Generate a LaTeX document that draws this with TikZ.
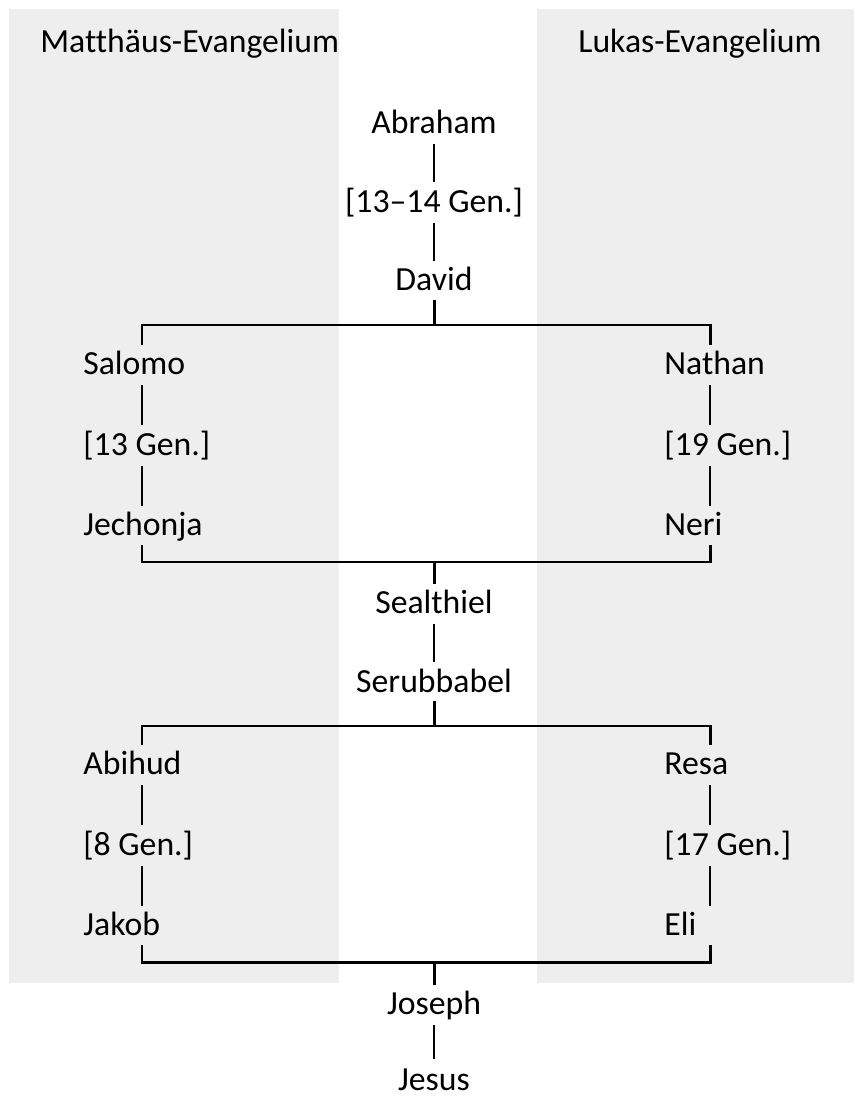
\documentclass[tikz,border=0pt]{standalone}
\usepackage{fontspec}
\setmainfont{Carlito}[Ligatures=NoCommon]
\usetikzlibrary{positioning}
\definecolor{panelgray}{HTML}{EEEEEE}

\begin{document}
\begin{tikzpicture}[
  x=0.02cm, y=-0.02cm,
  person/.style={inner sep=0pt, minimum height=0.76cm, text height=15.5pt, text depth=3.5pt, font=\fontsize{19.2}{23}\selectfont},
  sideperson/.style={person, text width=2.9cm, align=flush left},
  bar/.style={line width=1.1pt, shorten <=0.04cm},
  bracket/.style={line width=1.7pt}
]
\useasboundingbox (0,0) rectangle (854,1097);

%Panels
\fill[panelgray] (9,9) rectangle (339,983);
\fill[panelgray] (537,9) rectangle (854,983);

%Nodes
\node[person, anchor=west] (matthew) at (40,42) {Matthäus-Evangelium};
\node[person, anchor=west] (luke) at (578,42) {Lukas-Evangelium};

\node[person] (abraham) at (434,123) {Abraham};
\node[person, below=0.8cm of abraham] (gena) {[13–14 Gen.]};
\node[person, below=0.8cm of gena] (david) {David};

\node[sideperson, anchor=west] (salomo) at (83,364) {Salomo};
\node[sideperson, below=0.84cm of salomo] (genb) {[13 Gen.]};
\node[sideperson, below=0.84cm of genb] (jechonja) {Jechonja};

\node[sideperson, anchor=west] (nathan) at (664,364) {Nathan};
\node[sideperson, below=0.84cm of nathan] (genc) {[19 Gen.]};
\node[sideperson, below=0.84cm of genc] (neri) {Neri};

\node[person] (sealthiel) at (434,603) {Sealthiel};
\node[person, below=0.8cm of sealthiel] (serubbabel) {Serubbabel};

\node[sideperson, anchor=west] (abihud) at (83,764) {Abihud};
\node[sideperson, below=0.84cm of abihud] (gend) {[8 Gen.]};
\node[sideperson, below=0.84cm of gend] (jakob) {Jakob};

\node[sideperson, anchor=west] (resa) at (664,764) {Resa};
\node[sideperson, below=0.84cm of resa] (gene) {[17 Gen.]};
\node[sideperson, below=0.84cm of gene] (eli) {Eli};

\node[person] (joseph) at (434,1004) {Joseph};
\node[person, minimum height=0pt] (jesus) at (434,1080) {Jesus};

\coordinate (lx) at (142,0);
\coordinate (rx) at (710,0);
\coordinate (ja) at (434,325);
\coordinate (jb) at (434,562);
\coordinate (jc) at (434,726);
\coordinate (jd) at (434,962);

%Lines
\draw[bar] (abraham) -- (gena);
\draw[bar] (gena) -- (david);
\draw[bar] (salomo.south -| lx) -- (genb.north -| lx);
\draw[bar] (genb.south -| lx) -- (jechonja.north -| lx);
\draw[bar] (nathan.south -| rx) -- (genc.north -| rx);
\draw[bar] (genc.south -| rx) -- (neri.north -| rx);
\draw[bar] (sealthiel) -- (serubbabel);
\draw[bar] (abihud.south -| lx) -- (gend.north -| lx);
\draw[bar] (gend.south -| lx) -- (jakob.north -| lx);
\draw[bar] (resa.south -| rx) -- (gene.north -| rx);
\draw[bar] (gene.south -| rx) -- (eli.north -| rx);
\draw[bar, shorten >=0.08cm] (joseph) -- (jesus);

%Brackets
\draw[bracket] (david) -- (ja);
\draw[bracket] (salomo.north -| lx) |- (ja) -| (nathan.north -| rx);
\draw[bracket] (jechonja.south -| lx) |- (jb) -| (neri.south -| rx);
\draw[bracket] (jb) -- (sealthiel);
\draw[bracket] (serubbabel) -- (jc);
\draw[bracket] (abihud.north -| lx) |- (jc) -| (resa.north -| rx);
\draw[bracket] (jakob.south -| lx) |- (jd) -| (eli.south -| rx);
\draw[bracket] (jd) -- (joseph);
\end{tikzpicture}
\end{document}
